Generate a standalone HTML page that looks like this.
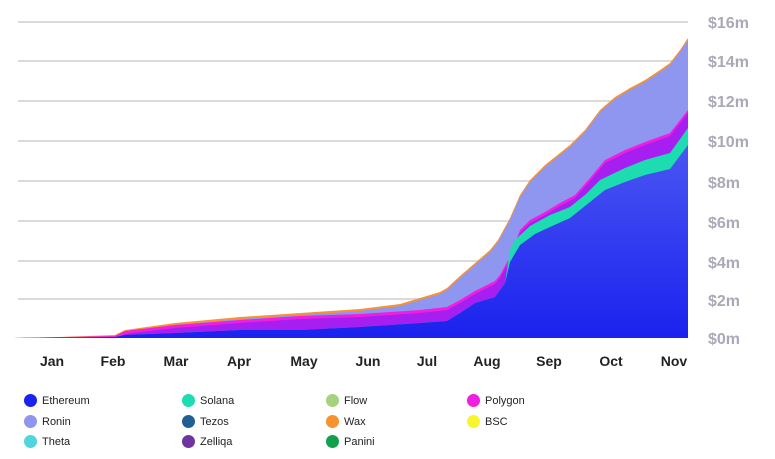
<!DOCTYPE html>
<html><head><style>
body{margin:0;background:#fff;width:775px;height:459px;overflow:hidden;font-family:"Liberation Sans",sans-serif}
.lg{position:absolute;font-size:11px;color:#222;}
.lg i{position:absolute;left:-18px;top:-1px;width:13px;height:13px;border-radius:50%}
</style></head><body>
<svg width="775" height="459" style="position:absolute;left:0;top:0" id="s">
<defs><linearGradient id="g" x1="0" y1="0" x2="0" y2="1"><stop offset="0" stop-color="#4a56f2"/><stop offset="1" stop-color="#1a22ee"/></linearGradient></defs>
<g stroke="#c4c4c8" stroke-width="1.2">
<line x1="18" x2="688" y1="22" y2="22"/><line x1="18" x2="688" y1="61" y2="61"/><line x1="18" x2="688" y1="101" y2="101"/><line x1="18" x2="688" y1="141" y2="141"/><line x1="18" x2="688" y1="181" y2="181"/><line x1="18" x2="688" y1="221" y2="221"/><line x1="18" x2="688" y1="261" y2="261"/><line x1="18" x2="688" y1="299" y2="299"/>
</g>
<g id="areas"></g>
<g fill="#a9a9b8" font-size="16" font-family="Liberation Sans" font-weight="bold">
<text x="708" y="28">$16m</text><text x="708" y="67">$14m</text><text x="708" y="107">$12m</text><text x="708" y="147">$10m</text><text x="708" y="188">$8m</text><text x="708" y="228">$6m</text><text x="708" y="268">$4m</text><text x="708" y="306">$2m</text><text x="708" y="344">$0m</text>
</g>
<g fill="#222" font-size="14" font-weight="bold" text-anchor="middle">
<text x="52" y="366">Jan</text><text x="113" y="366">Feb</text><text x="176" y="366">Mar</text><text x="239" y="366">Apr</text><text x="304" y="366">May</text><text x="368" y="366">Jun</text><text x="427" y="366">Jul</text><text x="487" y="366">Aug</text><text x="549" y="366">Sep</text><text x="611" y="366">Oct</text><text x="674" y="366">Nov</text>
</g>
</svg>
<div class="lg" style="left:42px;top:395px"><i style="background:#1a22ee"></i>Ethereum</div>
<div class="lg" style="left:42px;top:416px"><i style="background:#8f96ef"></i>Ronin</div>
<div class="lg" style="left:42px;top:436px"><i style="background:#4fd6dd"></i>Theta</div>
<div class="lg" style="left:200px;top:395px"><i style="background:#1ddcb0"></i>Solana</div>
<div class="lg" style="left:200px;top:416px"><i style="background:#1f5f95"></i>Tezos</div>
<div class="lg" style="left:200px;top:436px"><i style="background:#6e35a0"></i>Zelliqa</div>
<div class="lg" style="left:344px;top:395px"><i style="background:#a4d27e"></i>Flow</div>
<div class="lg" style="left:344px;top:416px"><i style="background:#f7922e"></i>Wax</div>
<div class="lg" style="left:344px;top:436px"><i style="background:#12a04e"></i>Panini</div>
<div class="lg" style="left:485px;top:395px"><i style="background:#f01ee0"></i>Polygon</div>
<div class="lg" style="left:485px;top:416px"><i style="background:#f7f52e"></i>BSC</div>
<script>
var B=338;
var top_=[[13,338],[60,337],[115,335],[125,330],[175,323],[240,317],[300,313],[360,309],[400,304],[420,298],[440,292],[447,288],[460,276],[475,263],[490,250],[498,240],[510,218],[520,195],[530,180],[545,165],[560,153],[570,145],[585,130],[600,110],[615,97],[630,88],[645,80],[660,70],[670,63],[680,50],[688,38]];
var mag=[[13,338],[115,336],[125,331],[175,325],[240,320],[300,316],[360,314],[420,310],[447,307],[460,300],[475,291],[495,281],[500,275],[510,257],[520,230],[530,220],[545,212],[560,203],[575,195],[590,178],[605,160],[625,150],[645,142],[670,133],[688,110]];
var eth=[[13,338],[115,337],[125,335],[175,333],[240,330],[300,330],[360,327],[420,323],[447,321],[460,313],[475,303],[495,297],[505,283],[510,262],[520,245],[535,234],[550,227],[570,218],[590,202],[605,190],[625,182],[645,175],[670,169],[688,145]];
var sol=eth.slice(0,13).concat([[510,250],[515,240],[530,226],[550,215],[570,207],[585,195],[600,180],[625,168],[645,160],[670,153],[688,128]]);
function sh(p,d){return p.map(function(q){return [q[0],Math.min(B,q[1]+d)]})}
function poly(p,c){var s=p.map(function(q){return q.join(',')}).join(' ')+' 688,'+B+' 13,'+B;
document.getElementById('areas').innerHTML+='<polygon points="'+s+'" fill="'+c+'"/>';}
poly(top_,'#f7922e');poly(sh(top_,2),'#8f96ef');poly(mag,'#f01ee0');poly(sh(mag,3),'#a61ff0');poly(sol,'#1ddcb0');poly(eth,'url(#g)');
</script>
</body></html>
